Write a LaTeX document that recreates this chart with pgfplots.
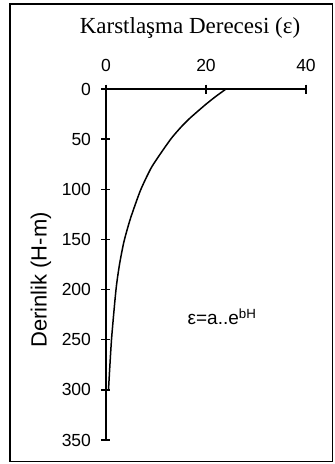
\documentclass[border=0pt]{standalone}
\usepackage{fontspec}
\setmainfont{Liberation Sans}
\newfontfamily\timesfont{Liberation Serif}
\usepackage{pgfplots}
\pgfplotsset{compat=1.18}
\begin{document}
\begin{tikzpicture}[x=1pt,y=1pt]
\path[use as bounding box] (0,0) rectangle (335,464);
\draw[line width=1.8pt] (10,2.5) rectangle (332.5,460);
\node[anchor=base,font=\timesfont\fontsize{23}{25}\selectfont] at (190,430) {Karstlaşma Derecesi (ε)};
\node[rotate=90,font=\fontsize{22}{24}\selectfont] at (41,184) {Derinlik (H-m)};
\begin{axis}[
  at={(106pt,24pt)}, anchor=south west,
  scale only axis, width=200pt, height=351pt,
  xmin=0, xmax=40, ymin=0, ymax=350,
  y dir=reverse,
  axis x line*=top, axis y line*=left,
  axis line style={line width=1.6pt, -},
  xtick={0,20,40}, ytick={0,50,100,150,200,250,300,350},
  xticklabels={0,20,40},
  yticklabels={0,50,100,150,200,250,300,350},
  tick align=center, major tick length=9pt,
  tick style={line width=1.4pt, black},
  tick label style={font=\fontsize{17.5}{19}\selectfont},
  xticklabel style={yshift=9pt},
  yticklabel style={xshift=-7pt},
  clip=false,
]
\addplot[black, line width=1.5pt, smooth, tension=0.4] coordinates {
(24.0,0) (21.8,8) (19.8,16) (16.8,29) (15.0,38) (13.1,49) (11.1,63) (9.0,79) (6.9,101)
(4.9,129) (3.6,152) (2.7,175) (2.0,200) (1.1,250) (0.5,300)
};
\node[anchor=base,font=\fontsize{19}{21}\selectfont] at (axis cs:23.2,235) {ε=a..e\textsuperscript{bH}};
\end{axis}
\end{tikzpicture}
\end{document}
